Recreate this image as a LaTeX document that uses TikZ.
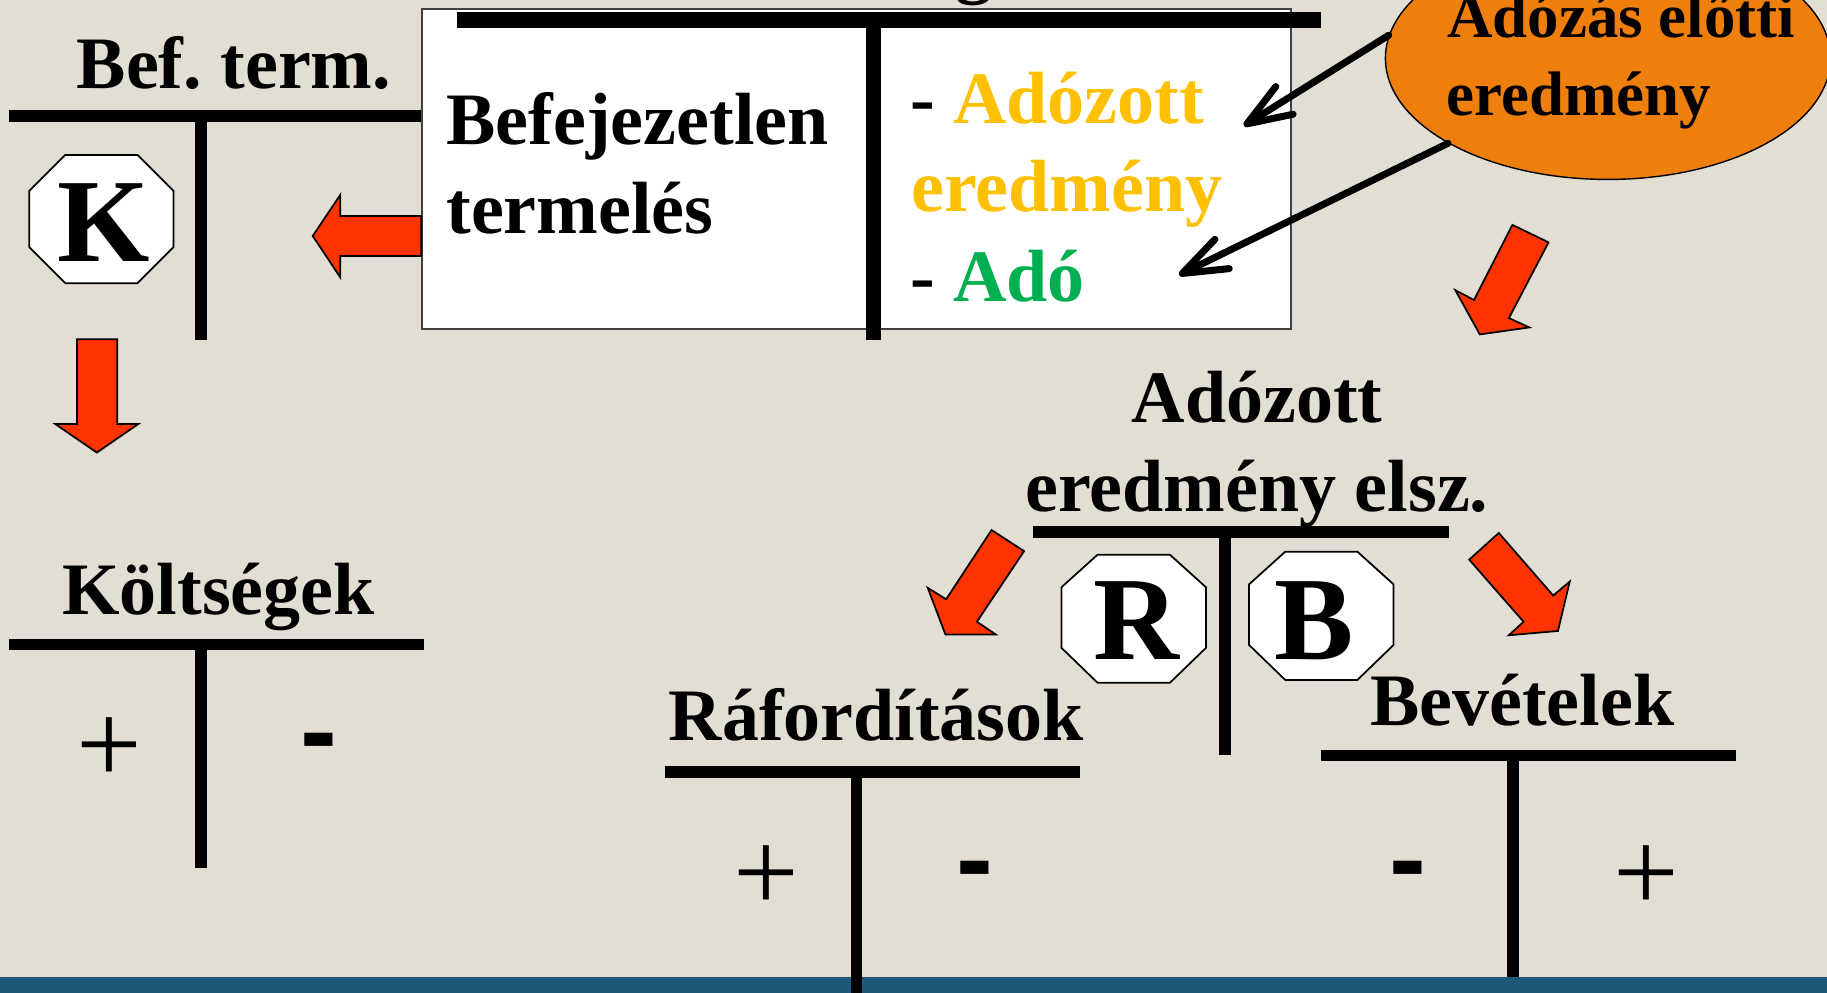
\documentclass[tikz,border=0pt]{standalone}
\usepackage{fontspec}
\setmainfont{Liberation Serif}
\newfontfamily\signfont{Liberation Sans}
\usetikzlibrary{arrows.meta,shapes.geometric}
\definecolor{bg}{HTML}{E3DED3}
\definecolor{barc}{HTML}{1E5878}
\definecolor{redA}{HTML}{FF3300}
\definecolor{orangeE}{HTML}{EE7F0D}
\definecolor{goldT}{HTML}{FFC000}
\definecolor{greenT}{HTML}{00B050}
\frenchspacing
\begin{document}
\begin{tikzpicture}[x=1pt,y=-1pt,
  lbl/.style={font=\fontsize{63.5}{76}\selectfont\bfseries, inner sep=0pt},
  elltext/.style={font=\fontsize{54}{66}\selectfont\bfseries, inner sep=0pt, anchor=base west},
  bigletter/.style={font=\fontsize{102}{110}\selectfont\bfseries, inner sep=0pt, anchor=base},
  plussign/.style={font=\fontsize{100}{110}\selectfont, inner sep=0pt, anchor=base},
  minussign/.style={font=\signfont\fontsize{95}{105}\selectfont\bfseries, inner sep=0pt, anchor=base},
  tline/.style={line width=10pt},
  boxline/.style={line width=13pt},
  octa/.style={draw=black, fill=white, line width=1.5pt, line join=miter},
  blockarrow/.style={fill=redA, draw=black, line width=1.5pt, line join=miter},
  ptr/.style={line width=6pt, line cap=round, -{Straight Barb[length=38pt,width=28pt,round]}}]
\useasboundingbox (0,0) rectangle (1568,852);
\fill[bg] (0,0) rectangle (1568,852);
\fill[barc] (0,838.5) rectangle (1568,852);

% cut-off title glyph at the top
\node[lbl, anchor=base west] (cut) at (820,-9) {g};

% main box
\node[draw=black!75, fill=white, line width=1.5pt, minimum width=745.4pt, minimum height=274.6pt, inner sep=0pt, anchor=north west] (box) at (361.6,7.2) {};
\draw[boxline] (391.8,17.2) -- (1133.7,17.2);
\draw[boxline] (749.5,17.2) -- (749.5,292);
\node[lbl, anchor=base west] (bt1) at (383,124.4) {Befejezetlen};
\node[lbl, anchor=base west] (bt2) at (383,200.2) {termelés};
\node[lbl, anchor=base west] (r1) at (781,105.9) {- \textcolor{goldT}{Adózott}};
\node[lbl, anchor=base west, text=goldT] (r2) at (782,181.7) {eredmény};
\node[lbl, anchor=base west] (r3) at (781,258.9) {- \textcolor{greenT}{Adó}};

% Bef. term. account
\node[lbl, anchor=base] (bef) at (200.7,75.8) {Bef. term.};
\draw[tline] (7.5,99.3) -- (361.6,99.3);
\draw[tline] (172.3,99.3) -- (172.3,292);
\draw[octa] (56,133) -- (118,133) -- (149,164) -- (149,212) -- (118,243) -- (56,243) -- (25,212) -- (25,164) -- cycle;
\node[bigletter] (K) at (89,224.6) {K};

% red block arrows
\draw[blockarrow] (361.6,185.4) -- (292,185.4) -- (292,167.3) -- (268.4,202.5) -- (292,238) -- (292,219.7) -- (361.6,219.7) -- cycle;
\draw[blockarrow] (66,291.2) -- (100.7,291.2) -- (100.7,363.8) -- (118.8,363.8) -- (83.1,388.4) -- (47.3,363.8) -- (66,363.8) -- cycle;
\draw[blockarrow] (1298,193) -- (1329,208) -- (1295,273) -- (1312.5,281) -- (1270,287) -- (1249,249) -- (1265,257.5) -- cycle;
\draw[blockarrow] (851,454.9) -- (878.9,473) -- (838.4,533.6) -- (854.6,544.5) -- (811.4,544.5) -- (796.2,504.5) -- (812,514.3) -- cycle;
\draw[blockarrow] (1286.3,457.4) -- (1333,511.1) -- (1347.2,499.1) -- (1337.1,541.5) -- (1294.9,545.2) -- (1307.6,533.6) -- (1260.9,480.3) -- cycle;

% Költségek account
\node[lbl, anchor=base] (koltseg) at (187.6,527.1) {Költségek};
\draw[tline] (7.5,553) -- (364.1,553);
\draw[tline] (172.5,553) -- (172.5,745);
\node[plussign] (kplus) at (94.2,672.2) {+};
\node[minussign] (kminus) at (274,659.6) {-};

% Adózott eredmény elsz. account
\node[lbl, anchor=base] (ae1) at (1078.8,362.3) {Adózott};
\node[lbl, anchor=base] (ae2) at (1078.8,439.2) {eredmény elsz.};
\draw[tline] (886.5,456.8) -- (1243.2,456.8);
\draw[tline] (1051.4,456.8) -- (1051.4,647.9);
\draw[octa] (942,476) -- (1004,476) -- (1035,504) -- (1035,556) -- (1004,586) -- (942,586) -- (911,556) -- (911,504) -- cycle;
\node[bigletter] (R) at (975.3,565.6) {R};
\draw[octa] (1103,473.5) -- (1165,473.5) -- (1196,501.5) -- (1196,553.5) -- (1165,583.5) -- (1103,583.5) -- (1072,553.5) -- (1072,501.5) -- cycle;
\node[bigletter] (B) at (1127.5,565.6) {B};

% Ráfordítások account
\node[lbl, anchor=base] (raf) at (752,635.2) {Ráfordítások};
\draw[tline] (570.5,662.5) -- (927.1,662.5);
\draw[tline] (735,662.5) -- (735,852);
\node[plussign] (rplus) at (657.7,782.2) {+};
\node[minussign] (rminus) at (837,769.3) {-};

% Bevételek account
\node[lbl, anchor=base] (bev) at (1306.4,622.5) {Bevételek};
\draw[tline] (1133.6,648.5) -- (1490.3,648.5);
\draw[tline] (1298.5,648.5) -- (1298.5,838.5);
\node[minussign] (bminus) at (1208,769.3) {-};
\node[plussign] (bplus) at (1412.9,782.2) {+};

% Adózás előtti eredmény
\node[ellipse, fill=orangeE, draw=black, line width=1.2pt, minimum width=382pt, minimum height=208pt, inner sep=0pt] (pre) at (1380,50) {};
\node[elltext] (e1) at (1242,32) {Adózás előtti};
\node[elltext] (e2) at (1241.5,98.7) {eredmény};
\coordinate (t1) at (1067.6,107.9);
\coordinate (t2) at (1012,236);
\draw[ptr] (pre.174) -- (t1);
\draw[ptr] (pre.208) -- (t2);
\end{tikzpicture}
\end{document}
